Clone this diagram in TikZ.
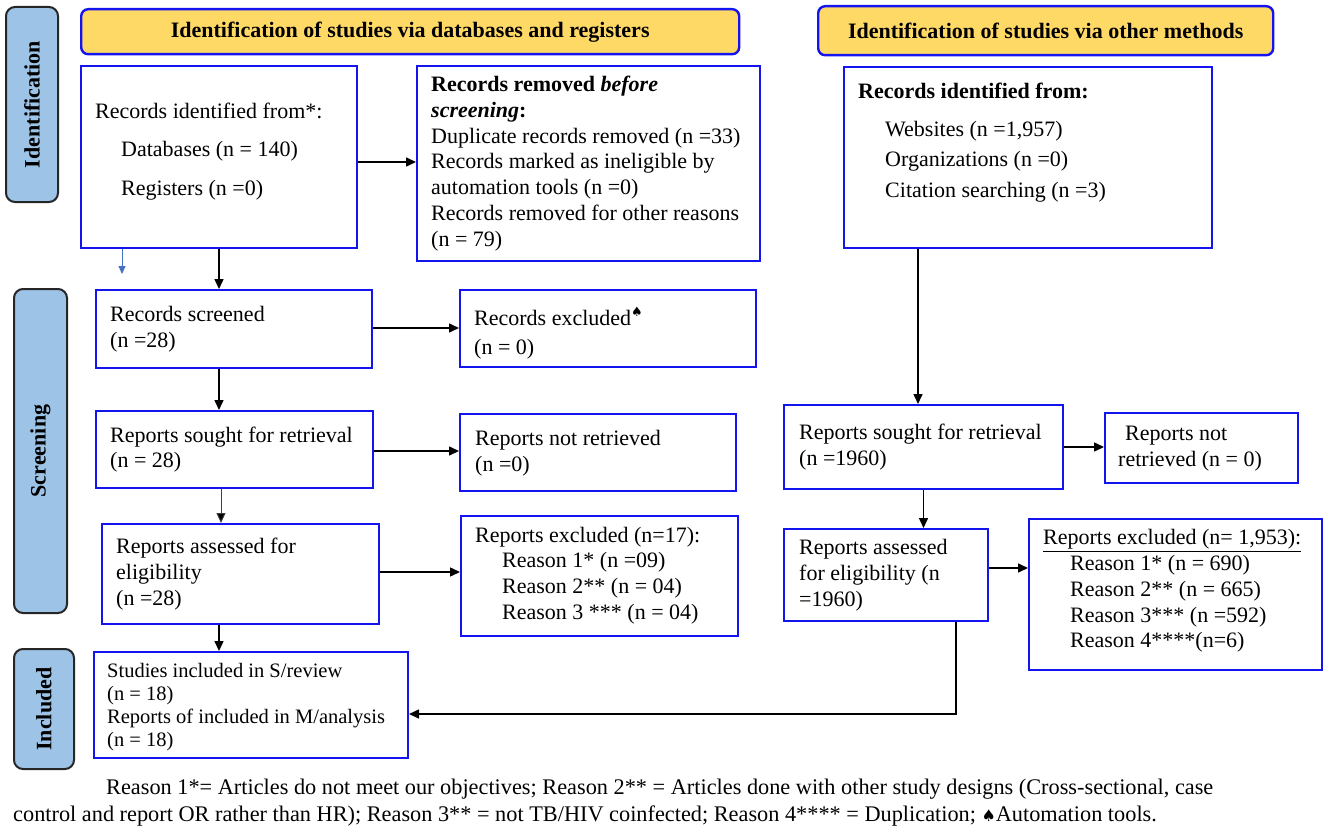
\documentclass[tikz,border=0pt]{standalone}
\usepackage{fontspec}
\setmainfont{Liberation Serif}
\newfontfamily\symf{DejaVu Sans}
\usetikzlibrary{arrows.meta}
\definecolor{boxblue}{HTML}{1414F0}
\definecolor{headfill}{HTML}{FFD966}
\definecolor{sidefill}{HTML}{9DC3E6}
\definecolor{thinblue}{HTML}{4472C4}
\newcommand\mkbox[6][box]{\node[#1, anchor=north west, minimum width={#5-#3}, minimum height={#6-#4}] (#2) at (#3,#4) {};}
\begin{document}
\begin{tikzpicture}[x=1pt, y=-1pt,
  box/.style={draw=boxblue, line width=2pt, fill=white, inner sep=0pt},
  head/.style={draw=boxblue, line width=2.4pt, fill=headfill, rounded corners=7pt, inner sep=0pt, font=\fontsize{22}{25.8}\selectfont\bfseries},
  side/.style={draw=black!85, line width=2pt, fill=sidefill, rounded corners=9pt, inner sep=0pt},
  sidetext/.style={rotate=90, font=\fontsize{22}{25.8}\selectfont\bfseries, inner sep=0pt},
  txt/.style={align=left, inner sep=0pt, anchor=west, font=\fontsize{22}{25.8}\selectfont},
  arr/.style={line width=1.5pt, -{Triangle[length=10pt,width=9pt]}},
  thinarr/.style={line width=0.9pt, draw=black!75, -{Triangle[length=10pt,width=9pt,fill=black]}},
  bluearr/.style={line width=1pt, draw=thinblue, -{Triangle[length=8pt,width=7pt,fill=thinblue]}}
]
\useasboundingbox (0,0) rectangle (1325,832);

% side labels
\mkbox[side]{s1}{5}{6}{57}{201}
\node[sidetext] (sl1) at (s1) {Identification};
\mkbox[side]{s2}{13}{288}{66}{612}
\node[sidetext] (sl2) at (s2) {Screening};
\mkbox[side]{s3}{13}{648}{73}{768}
\node[sidetext] (sl3) at (s3) {Included};

% headers
\node[head, anchor=north west, minimum width=658, minimum height=45] (h1) at (80,8) {Identification of studies via databases and registers};
\node[head, anchor=north west, minimum width=455, minimum height=49] (h2) at (817,5) {Identification of studies via other methods};

% boxes
\mkbox{b1}{80}{65}{356}{247}
\mkbox{b2}{416}{65}{759}{260}
\mkbox{b3}{843}{66}{1211}{247}
\mkbox{b4}{95}{289}{371}{367}
\mkbox{b5}{459}{289}{755}{366}
\mkbox{b6}{95}{410}{372}{487}
\mkbox{b7}{459}{413}{735}{490}
\mkbox{b8}{101}{523}{378}{623}
\mkbox{b9}{460}{515}{737}{635}
\mkbox{b10}{783}{404}{1062}{488}
\mkbox{b11}{1104}{412}{1297}{482}
\mkbox{b12}{783}{528}{987}{620}
\mkbox{b13}{1028}{518}{1321}{669}
\mkbox{b14}{93}{651}{407}{757}

% texts
\node[txt, font=\fontsize{22}{38.5}\selectfont] (t1) at (95,151.5) {Records identified from*:\\\hspace*{26pt}Databases (n = 140)\\\hspace*{26pt}Registers (n =0)};
\node[txt] (t2) at (431,163.5) {\textbf{Records removed \textit{before}}\\\textbf{\textit{screening}:}\\Duplicate records removed (n =33)\\Records marked as ineligible by\\automation tools (n =0)\\Records removed for other reasons\\(n = 79)};
\node[txt, font=\fontsize{22}{30.5}\selectfont] (t3) at (858,142.5) {\textbf{Records identified from:}\\[7.5pt]\hspace*{27pt}Websites (n =1,957)\\\hspace*{27pt}Organizations (n =0)\\\hspace*{27pt}Citation searching (n =3)};
\node[txt] (t4) at (110,329) {Records screened\\(n =28)};
\node[txt, font=\fontsize{22}{29}\selectfont] (t5) at (474,333.5) {Records excluded\raisebox{9pt}{\fontsize{13}{13}\symf ♠}\\(n = 0)};
\node[txt] (t6) at (110,449.5) {Reports sought for retrieval\\(n = 28)};
\node[txt] (t7) at (475,453) {Reports not retrieved\\(n =0)};
\node[txt] (t8) at (116,574) {Reports assessed for\\eligibility\\(n =28)};
\node[txt] (t9) at (475,575.5) {Reports excluded (n=17):\\\hspace*{27pt}Reason 1* (n =09)\\\hspace*{27pt}Reason 2** (n = 04)\\\hspace*{27pt}Reason 3 *** (n = 04)};
\node[txt] (t10) at (799,447) {Reports sought for retrieval\\(n =1960)};
\node[txt] (t11) at (1118,449) {\hspace*{7pt}Reports not\\retrieved (n = 0)};
\node[txt] (t12) at (799,575.5) {Reports assessed\\for eligibility (n\\=1960)};
\node[txt] (t13) at (1043,591) {\underline{Reports excluded (n= 1,953):}\\\hspace*{27pt}Reason 1* (n = 690)\\\hspace*{27pt}Reason 2** (n = 665)\\\hspace*{27pt}Reason 3*** (n =592)\\\hspace*{27pt}Reason 4****(n=6)};
\begin{scope}
\clip (b14.north west) rectangle (b14.south east);
\node[txt, font=\fontsize{20.5}{23}\selectfont] (t14) at (107,707.5) {Studies included in S/review\\(n = 18)\\Reports of included in M/analysis\\(n = 18)};
\end{scope}

% footnote
\node[txt, font=\fontsize{22.3}{26}\selectfont] (fn1) at (106,789) {Reason 1*= Articles do not meet our objectives; Reason 2** = Articles done with other study designs (Cross-sectional, case};
\node[txt, font=\fontsize{22.3}{26}\selectfont] (fn2) at (13,816) {control and report OR rather than HR); Reason 3** = not TB/HIV coinfected; Reason 4**** = Duplication; {\fontsize{16}{16}\symf ♠}Automation tools.};

% connectors
\draw[arr] ([yshift=-5pt]b1.east) -- ([yshift=-5pt]b1.east -| b2.west);
\draw[arr] (b1.south) -- (b1.south |- b4.north);
\coordinate (bl) at (122,274);
\draw[bluearr] (b1.south west -| bl) -- (bl);
\draw[arr] ([yshift=1pt]b4.east) -- ([yshift=1pt]b4.east -| b5.west);
\draw[arr] ([xshift=-15pt]b4.south) -- ([xshift=-15pt]b4.south |- b6.north);
\draw[arr] ([yshift=-1.5pt]b6.east) -- ([yshift=-1.5pt]b6.east -| b7.west);
\draw[thinarr] ([xshift=-13.5pt]b6.south) -- ([xshift=-13.5pt]b6.south |- b8.north);
\draw[arr] ([yshift=2pt]b8.east) -- ([yshift=2pt]b8.east -| b9.west);
\draw[arr] ([xshift=-21.5pt]b8.south) -- ([xshift=-21.5pt]b8.south |- b14.north);
\draw[arr] ([xshift=75pt]b3.south west) -- ([xshift=75pt]b3.south west |- b10.north);
\draw[arr] (b10.east) -- (b10.east -| b11.west);
\draw[arr] (b10.south) -- (b10.south |- b12.north);
\draw[arr] ([yshift=7pt]b12.east) -- ([yshift=7pt]b12.east -| b13.west);
\draw[arr] ([xshift=70pt]b12.south) |- ([yshift=-9pt]b14.east);
\end{tikzpicture}
\end{document}
